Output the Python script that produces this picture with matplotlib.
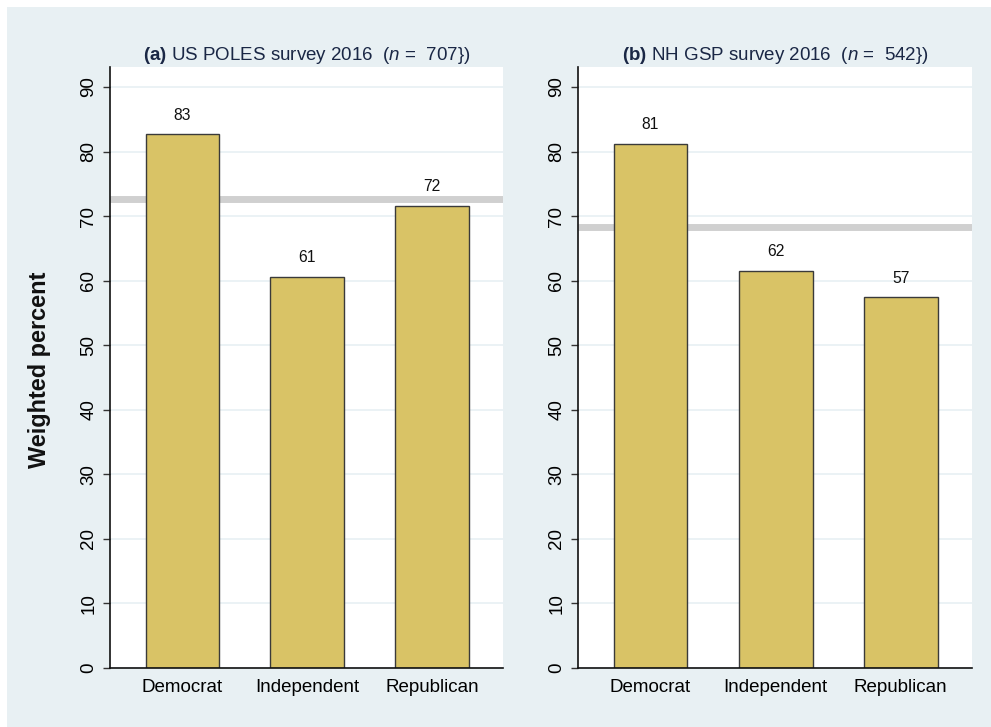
import matplotlib
matplotlib.use("Agg")
import matplotlib.pyplot as plt
from matplotlib.patches import Rectangle

plt.rcParams['font.family'] = ['Liberation Sans', 'DejaVu Sans']
plt.rcParams['mathtext.fontset'] = 'custom'
plt.rcParams['mathtext.rm'] = 'Liberation Sans'
plt.rcParams['mathtext.it'] = 'Liberation Sans:italic'
plt.rcParams['mathtext.bf'] = 'Liberation Sans:bold'

# Data
categories = ["Democrat", "Independent", "Republican"]
poles_values = [82.7, 60.6, 71.6]
gsp_values = [81.2, 61.5, 57.4]
poles_overall = 72.6
gsp_overall = 68.3
panel_titles = [
    r"$\mathbf{(a)}$ US POLES survey 2016  ($\mathit{n}$ =  707})",
    r"$\mathbf{(b)}$ NH GSP survey 2016  ($\mathit{n}$ =  542})",
]
yticks = [0, 10, 20, 30, 40, 50, 60, 70, 80, 90]

BG = "#e8f0f3"
BAR = "#d9c366"
EDGE = "#3a3a3a"
GRID = "#e9f1f4"
REF = "#d0d0d0"
TITLE_C = "#1a2745"

W, H = 991, 727
fig = plt.figure(figsize=(W / 100, H / 100), dpi=100, facecolor="white")
fig.patches.append(Rectangle((7 / W, 0), 1 - 7 / W, 1 - 7 / H,
                             transform=fig.transFigure, facecolor=BG,
                             edgecolor="none", zorder=-10))

axes_boxes = [
    (110 / W, 1 - 668 / H, 393 / W, 601 / H),
    (578 / W, 1 - 668 / H, 394 / W, 601 / H),
]
series = [(poles_values, poles_overall), (gsp_values, gsp_overall)]

x = list(range(len(categories)))
for box, (vals, overall), title in zip(axes_boxes, series, panel_titles):
    ax = fig.add_axes(box)
    ax.set_facecolor("white")
    ax.set_xlim(-0.58, 2.57)
    ax.set_ylim(0, 93.1)
    ax.set_yticks(yticks)
    ax.yaxis.grid(True, color=GRID, linewidth=1.3, zorder=0)
    ax.set_axisbelow(True)
    ax.axhline(overall, color=REF, linewidth=5, zorder=1)
    ax.bar(x, vals, width=0.59, color=BAR, edgecolor=EDGE,
           linewidth=1.0, zorder=2)
    for xi, v in zip(x, vals):
        ax.text(xi, v + 1.8, f"{v:.0f}", ha="center", va="bottom",
                fontsize=11.3, color="#111111", zorder=3)
    ax.set_xticks(x)
    ax.set_xticklabels(categories, fontsize=13.5)
    ax.tick_params(axis="x", length=0, pad=8)
    ax.tick_params(axis="y", length=5, width=1, labelsize=13.5,
                   labelrotation=90, pad=4, color="#333333")
    for lbl in ax.get_yticklabels():
        lbl.set_va("center")
    for side in ("top", "right"):
        ax.spines[side].set_visible(False)
    for side in ("left", "bottom"):
        ax.spines[side].set_linewidth(1.2)
        ax.spines[side].set_color("#111111")
    ax.set_title(title, fontsize=13.5, color=TITLE_C, pad=5)

fig.text(40 / W, 1 - 370 / H, "Weighted percent", rotation=90,
         ha="center", va="center", fontsize=16.9, fontweight="bold",
         color="#111111")

fig.savefig("out.png", dpi=100, facecolor=fig.get_facecolor())
